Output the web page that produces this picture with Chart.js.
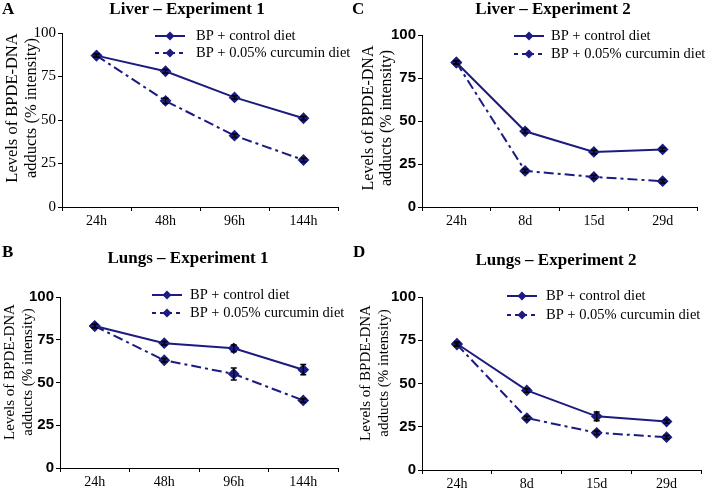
<!DOCTYPE html>
<html>
<head>
<meta charset="utf-8">
<script src="https://cdn.jsdelivr.net/npm/chart.js@4/dist/chart.umd.min.js"></script>
<style>
  html, body { margin: 0; padding: 0; background: #fff; }
  #wrap { position: relative; width: 708px; height: 488px; overflow: hidden; background: #fff; }
  canvas { position: absolute; }
</style>
</head>
<body>
<div id="wrap">
  <canvas id="cA" width="354" height="244" style="left:0px;top:0px;"></canvas>
  <canvas id="cC" width="362" height="244" style="left:346px;top:0px;"></canvas>
  <canvas id="cB" width="354" height="244" style="left:0px;top:244px;"></canvas>
  <canvas id="cD" width="362" height="244" style="left:346px;top:244px;"></canvas>
</div>
<script>
// ---------------- data ----------------
const seriesNames = ['BP + control diet', 'BP + 0.05% curcumin diet'];
const yAxisTitle = ['Levels of BPDE-DNA', 'adducts (% intensity)'];
const yTicks = [0, 25, 50, 75, 100];

const exp1Labels = ['24h', '48h', '96h', '144h'];
const exp2Labels = ['24h', '8d', '15d', '29d'];

const liver1Control = [87, 78, 63, 51];
const liver1Curcumin = [87, 61, 41, 27];
const liver1ControlErr = [1, 1, 1, 1];
const liver1CurcuminErr = [1, 1.5, 1, 1];

const liver2Control = [84, 44, 32, 33.5];
const liver2Curcumin = [84, 21, 17.5, 15];
const liver2ControlErr = [1, 1, 1, 1];
const liver2CurcuminErr = [1, 1, 1, 1];

const lungs1Control = [83, 73, 70, 57.5];
const lungs1Curcumin = [83, 63, 55, 39.5];
const lungs1ControlErr = [1, 1, 2, 3];
const lungs1CurcuminErr = [1, 1, 3.5, 1];

const lungs2Control = [73, 46, 31, 28];
const lungs2Curcumin = [72.5, 30, 21.5, 19];
const lungs2ControlErr = [1, 1, 2.5, 1];
const lungs2CurcuminErr = [1, 1, 1, 1];

// ---------------- styling ----------------
const NAVY = '#1c1c80';
const SERIF = '"Liberation Serif", "Times New Roman", serif';
const SANS = '"Liberation Sans", Arial, sans-serif';

const decoPlugin = {
  id: 'deco',
  afterDatasetsDraw(chart, args, opts) {
    const ctx = chart.ctx;
    const xs = chart.scales.x, ys = chart.scales.y;
    ctx.save();
    ctx.strokeStyle = '#000';
    ctx.lineWidth = 1.5;
    chart.data.datasets.forEach(ds => {
      if (!ds.errors) return;
      ds.data.forEach((v, i) => {
        const e = ds.errors[i];
        if (!e) return;
        const x = xs.getPixelForValue(i);
        const y1 = ys.getPixelForValue(v + e), y2 = ys.getPixelForValue(v - e);
        ctx.beginPath();
        ctx.moveTo(x, y1); ctx.lineTo(x, y2);
        ctx.moveTo(x - 3, y1); ctx.lineTo(x + 3, y1);
        ctx.moveTo(x - 3, y2); ctx.lineTo(x + 3, y2);
        ctx.stroke();
      });
    });
    ctx.restore();
  },
  afterDraw(chart, args, opts) {
    const ctx = chart.ctx;
    ctx.save();
    ctx.fillStyle = '#000';
    ctx.font = 'bold 17px ' + SERIF;
    ctx.textAlign = 'left';
    ctx.textBaseline = 'middle';
    ctx.fillText(opts.letter, opts.letterX, opts.letterY);
    ctx.font = 'bold 17px ' + SERIF;
    ctx.textAlign = 'center';
    ctx.fillText(opts.title, opts.titleX, opts.titleY);
    // y axis title (two lines, rotated)
    const yt = opts.yTitle;
    ctx.font = yt.size + 'px ' + SERIF;
    ctx.textAlign = 'center';
    ctx.textBaseline = 'middle';
    yAxisTitle.forEach((line, i) => {
      ctx.save();
      ctx.translate(yt.xs[i], yt.cy);
      ctx.rotate(-Math.PI / 2);
      ctx.fillText(line, 0, 0);
      ctx.restore();
    });
    // legend
    const lg = opts.legend;
    chart.data.datasets.forEach((ds, i) => {
      const y = lg.rows[i];
      ctx.strokeStyle = ds.borderColor;
      ctx.lineWidth = 2;
      ctx.setLineDash(i === 0 ? [] : [4, 4]);
      ctx.beginPath();
      ctx.moveTo(lg.x1, y); ctx.lineTo(lg.x2, y);
      ctx.stroke();
      ctx.setLineDash([]);
      const cx = (lg.x1 + lg.x2) / 2;
      ctx.fillStyle = ds.borderColor;
      ctx.beginPath();
      ctx.moveTo(cx, y - 4.5); ctx.lineTo(cx + 4.5, y); ctx.lineTo(cx, y + 4.5); ctx.lineTo(cx - 4.5, y);
      ctx.closePath(); ctx.fill();
      ctx.fillStyle = '#000';
      ctx.font = '14.5px ' + SERIF;
      ctx.textAlign = 'left';
      ctx.textBaseline = 'middle';
      ctx.fillText(ds.label, lg.tx, y);
    });
    ctx.restore();
  }
};

function makePanel(id, labels, control, curcumin, controlErr, curcuminErr, p) {
  const canvas = document.getElementById(id);
  const W = canvas.width, H = canvas.height;
  const tickFont = p.serifTicks ? { family: SERIF, size: 15 } : { family: SANS, size: 15, weight: 'bold' };
  return new Chart(canvas, {
    type: 'line',
    data: {
      labels: labels,
      datasets: [
        { label: seriesNames[0], data: control, errors: controlErr,
          borderColor: NAVY, backgroundColor: NAVY, borderWidth: 2,
          pointStyle: 'rectRot', pointRadius: 4.5, pointBackgroundColor: NAVY, pointBorderColor: NAVY,
          tension: 0, fill: false },
        { label: seriesNames[1], data: curcumin, errors: curcuminErr,
          borderColor: NAVY, backgroundColor: NAVY, borderWidth: 2, borderDash: [10, 4, 3, 4],
          pointStyle: 'rectRot', pointRadius: 4.5, pointBackgroundColor: NAVY, pointBorderColor: NAVY,
          tension: 0, fill: false }
      ]
    },
    options: {
      responsive: false,
      animation: false,
      devicePixelRatio: 1,
      layout: { padding: { left: 0, top: p.area.t, right: W - p.area.r, bottom: 0 } },
      plugins: {
        legend: { display: false },
        tooltip: { enabled: false },
        deco: p.deco
      },
      scales: {
        x: {
          type: 'category',
          offset: true,
          grid: { display: true, drawOnChartArea: false, drawTicks: true, tickLength: 4, offset: true, color: '#000', lineWidth: 1 },
          border: { display: true, color: '#000', width: 1 },
          ticks: { font: { family: SERIF, size: 14 }, color: '#000', padding: 2, maxRotation: 0, autoSkip: false },
          afterFit: s => { s.height = H - p.area.b; }
        },
        y: {
          min: 0, max: 100,
          afterBuildTicks: s => { s.ticks = yTicks.map(v => ({ value: v })); },
          grid: { display: true, drawOnChartArea: false, drawTicks: true, tickLength: 4, color: '#000', lineWidth: 1 },
          border: { display: true, color: '#000', width: 1 },
          ticks: { font: tickFont, color: '#000', padding: 2 },
          title: { display: false },
          afterFit: s => { s.width = p.area.l; }
        }
      }
    },
    plugins: [decoPlugin]
  });
}

makePanel('cA', exp1Labels, liver1Control, liver1Curcumin, liver1ControlErr, liver1CurcuminErr, {
  serifTicks: true,
  area: { l: 62, t: 33, r: 338, b: 207 },
  deco: { letter: 'A', letterX: 2, letterY: 10, title: 'Liver \u2013 Experiment 1', titleX: 187, titleY: 10,
          yTitle: { size: 16.5, xs: [13, 32], cy: 108 },
          legend: { x1: 155, x2: 185, tx: 196, rows: [36, 53] } }
});
makePanel('cC', exp2Labels, liver2Control, liver2Curcumin, liver2ControlErr, liver2CurcuminErr, {
  serifTicks: false,
  area: { l: 76, t: 35, r: 351, b: 207 },
  deco: { letter: 'C', letterX: 6, letterY: 10, title: 'Liver \u2013 Experiment 2', titleX: 207, titleY: 10,
          yTitle: { size: 16, xs: [23, 41], cy: 118 },
          legend: { x1: 168, x2: 198, tx: 205, rows: [36, 54] } }
});
makePanel('cB', exp1Labels, lungs1Control, lungs1Curcumin, lungs1ControlErr, lungs1CurcuminErr, {
  serifTicks: false,
  area: { l: 60, t: 53, r: 338, b: 224 },
  deco: { letter: 'B', letterX: 2, letterY: 9, title: 'Lungs \u2013 Experiment 1', titleX: 188, titleY: 15,
          yTitle: { size: 15, xs: [10, 28], cy: 128 },
          legend: { x1: 152, x2: 182, tx: 190, rows: [51, 69] } }
});
makePanel('cD', exp2Labels, lungs2Control, lungs2Curcumin, lungs2ControlErr, lungs2CurcuminErr, {
  serifTicks: false,
  area: { l: 76, t: 53, r: 357, b: 226 },
  deco: { letter: 'D', letterX: 7, letterY: 9, title: 'Lungs \u2013 Experiment 2', titleX: 210, titleY: 17,
          yTitle: { size: 15, xs: [20, 38], cy: 129 },
          legend: { x1: 161, x2: 191, tx: 200, rows: [52, 71] } }
});
</script>
</body>
</html>
